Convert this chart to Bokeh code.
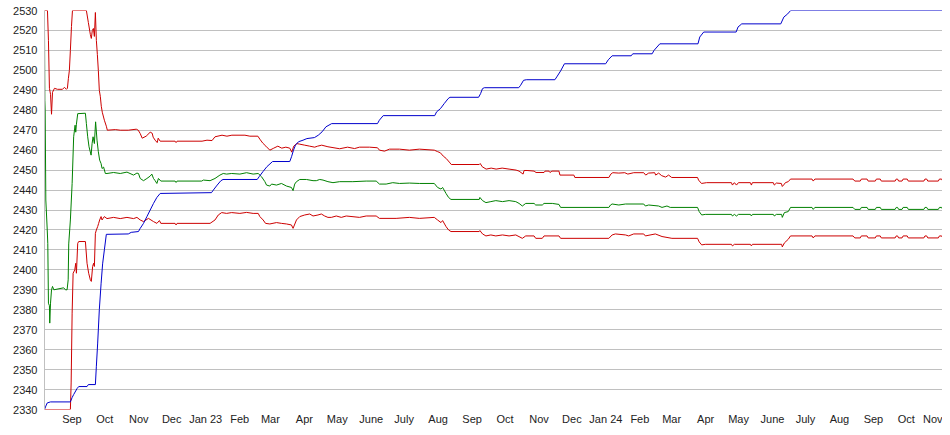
import pandas as pd
from bokeh.plotting import figure
from bokeh.models import Range1d, FixedTicker
from bokeh.embed import file_html
from bokeh.resources import INLINE

# Day 0 = 2022-08-21 (left edge of the visible window)
START = pd.Timestamp("2022-08-21")

tick_dates = ["2022-09-15", "2022-10-15", "2022-11-15", "2022-12-15", "2023-01-15",
              "2023-02-15", "2023-03-15", "2023-04-15", "2023-05-15", "2023-06-15",
              "2023-07-15", "2023-08-15", "2023-09-15", "2023-10-15", "2023-11-15",
              "2023-12-15", "2024-01-15", "2024-02-15", "2024-03-15", "2024-04-15",
              "2024-05-15", "2024-06-15", "2024-07-15", "2024-08-15", "2024-09-15",
              "2024-10-15", "2024-11-15"]
tick_labels = ["Sep", "Oct", "Nov", "Dec", "Jan 23", "Feb", "Mar", "Apr", "May", "June",
               "July", "Aug", "Sep", "Oct", "Nov", "Dec", "Jan 24", "Feb", "Mar", "Apr",
               "May", "June", "July", "Aug", "Sep", "Oct", "Nov"]
y_ticks = list(range(2330, 2540, 10))

# ---- Red (upper band) ----
upper_days = [0, 2.7, 3.6, 4.5, 5.5, 6.4, 7.3, 9.1, 11.8, 16.4, 18.2, 20.0, 20.9, 21.8, 22.7,
              23.6, 24.6, 25.5, 38.2, 40.0, 41.8, 42.7, 43.6, 44.6, 45.5, 46.4, 47.3, 48.2,
              49.1, 50.0, 50.9, 51.8, 52.7, 54.6, 56.4, 57.3, 64.6, 69.1, 76.4, 83.7, 85.5,
              87.3, 89.1, 92.7, 96.4, 98.2, 99.1, 100.9, 102.8, 103.7, 105.5, 119.1, 120.0,
              120.9, 143.7, 148.2, 152.8, 155.5, 161.9, 166.4, 170.9, 182.8, 187.3, 194.6,
              196.4, 199.1, 201.9, 205.5, 209.1, 212.8, 216.4, 220.1, 223.7, 225.5, 227.3,
              230.1, 232.8, 237.3, 241.9, 246.4, 249.1, 252.8, 258.5, 269.2, 276.4, 282.8,
              287.3, 296.4, 303.7, 305.5, 310.1, 314.6, 323.7, 332.8, 341.9, 355.5, 358.3,
              361.0, 363.7, 366.4, 369.2, 371.0, 396.5, 397.4, 399.2, 402.8, 407.4, 411.9,
              417.4, 423.7, 430.1, 432.8, 436.5, 437.4, 440.1, 446.5, 448.3, 455.6, 456.5,
              460.1, 461.0, 462.8, 469.2, 470.1, 482.8, 483.7, 514.7, 516.5, 518.3, 523.8,
              529.2, 532.0, 537.4, 546.5, 548.3, 551.0, 556.5, 557.4, 560.1, 562.9, 566.5,
              569.2, 572.0, 595.6, 596.5, 599.2, 603.8, 626.5, 627.4, 629.2, 631.1, 632.9,
              643.8, 644.7, 645.6, 664.7, 665.6, 667.5, 672.0, 672.9, 674.8, 675.7, 678.3,
              680.4, 700.0, 701.1, 702.6, 737.4, 739.0, 744.0, 745.0, 750.2, 751.2, 757.7,
              758.7, 762.2, 763.2, 775.8, 776.8, 778.0, 779.0, 782.1, 783.1, 786.8, 787.8,
              802.0, 803.0, 804.6, 805.6, 815.2, 816.2, 818.2, 819.2, 821.2, 822.2, 823.9]
upper_vals = [2530, 2530, 2515, 2491, 2488, 2478, 2489, 2491, 2490.5, 2490.5, 2491.5, 2490.5,
              2491, 2496, 2500, 2510, 2522, 2530, 2530, 2524, 2518, 2516, 2520, 2521, 2517,
              2529, 2515, 2508, 2500, 2490, 2487, 2482, 2479, 2475, 2472, 2470, 2470.3, 2470,
              2470, 2470.5, 2470, 2468.3, 2466, 2467, 2469, 2468.5, 2466.5, 2465, 2463.8, 2466,
              2464.5, 2464.5, 2463.8, 2464.5, 2464.5, 2465, 2464.8, 2466.7, 2467.5, 2467,
              2467.5, 2467.5, 2467, 2467, 2465.5, 2463.5, 2462, 2460, 2461, 2462, 2461,
              2461.5, 2461, 2459, 2462, 2463.3, 2463, 2462.5, 2462, 2461.5, 2462, 2462.5,
              2461.7, 2460.7, 2461.5, 2460.8, 2461.5, 2461.5, 2461.2, 2460, 2459.5, 2460.5,
              2460.5, 2460, 2460.5, 2460, 2459.3, 2458.7, 2457, 2455.8, 2454, 2452.8, 2452.8,
              2453.3, 2451.7, 2450.5, 2451, 2450.5, 2451, 2450.5, 2450, 2449.5, 2448, 2449.8,
              2449.8, 2449.5, 2448.8, 2448.8, 2449.5, 2449.5, 2448.8, 2449.5, 2449.5, 2447.5,
              2447.5, 2446.3, 2446.3, 2448, 2448.7, 2448.5, 2448.7, 2448, 2448.7, 2448.7,
              2447.5, 2448.5, 2448.7, 2447.5, 2448.5, 2447.2, 2446.5, 2447.5, 2446.3, 2446.3,
              2445, 2443.3, 2443.7, 2443.7, 2442.5, 2443.7, 2442.5, 2443.7, 2443.7, 2442.5,
              2443.7, 2443.7, 2442.5, 2443.5, 2443.3, 2441.8, 2443, 2443.7, 2444.2, 2445.5,
              2445.5, 2444.5, 2445.5, 2445.5, 2444.5, 2444.5, 2445.5, 2445.5, 2444.5, 2444.5,
              2445.5, 2445.5, 2444.5, 2444.5, 2445.5, 2445.5, 2444.5, 2444.5, 2445.5, 2445.5,
              2444.5, 2444.5, 2445.5, 2445.5, 2444.5, 2444.5, 2445.5, 2445.5, 2444.5, 2444.5,
              2445.5, 2445.5]

# ---- Green (middle) ----
mid_days = [0, 0.3, 0.6, 1.2, 2.5, 3.0, 3.6, 4.5, 4.8, 5.5, 6.4, 7.3, 8.5, 17.5, 19.1, 20.6,
            21.6, 22.1, 23.6, 25.2, 26.6, 27.9, 28.5, 29.1, 30.3, 37.3, 38.2, 39.4, 40.6,
            42.5, 43.4, 44.3, 45.5, 46.6, 47.9, 49.1, 50.3, 51.6, 52.5, 53.9, 55.5, 57.0,
            63.0, 69.1, 75.2, 81.2, 84.3, 85.7, 87.3, 90.3, 93.4, 96.4, 97.9, 99.4, 100.9,
            102.5, 103.9, 106.1, 119.1, 120.0, 120.9, 143.4, 144.9, 151.0, 155.5, 160.0,
            163.0, 166.1, 170.7, 178.2, 184.3, 190.3, 194.9, 197.9, 201.0, 202.5, 205.5,
            207.1, 211.6, 216.1, 220.7, 225.2, 226.7, 228.2, 229.8, 232.8, 238.9, 244.9,
            247.9, 251.0, 254.0, 258.5, 263.1, 269.2, 281.2, 293.4, 302.5, 305.5, 311.6,
            317.6, 323.7, 332.8, 341.9, 355.5, 358.5, 361.6, 363.1, 366.2, 368.5, 370.7,
            396.5, 397.1, 399.5, 402.6, 407.1, 411.6, 417.7, 423.7, 429.8, 432.8, 435.8,
            438.9, 446.5, 448.0, 454.0, 455.6, 463.1, 469.2, 470.7, 514.7, 516.2, 517.7,
            523.8, 529.9, 546.5, 548.0, 551.0, 560.1, 563.2, 567.7, 570.7, 595.6, 597.1,
            599.4, 602.6, 626.5, 627.4, 629.2, 631.1, 632.9, 643.8, 644.7, 645.6, 664.7,
            665.6, 667.5, 672.3, 672.9, 674.8, 678.3, 680.4, 700.0, 701.1, 702.6, 737.4,
            739.0, 744.0, 745.0, 750.2, 751.2, 757.7, 758.7, 762.2, 763.2, 775.8, 776.8,
            778.0, 779.0, 782.1, 783.1, 786.8, 787.8, 802.0, 803.0, 804.6, 805.6, 815.2,
            816.2, 818.2, 819.2, 821.2, 822.2, 823.9]
mid_vals = [2521.7, 2485, 2480, 2435, 2420, 2413.3, 2383.3, 2382, 2373.3, 2383.3, 2390,
            2391.7, 2390, 2391, 2390, 2390, 2395, 2413, 2425, 2443.3, 2466.7, 2472.5, 2469,
            2473, 2478.3, 2478.5, 2473.3, 2466.7, 2461.7, 2457.5, 2463.3, 2466.7, 2463.3,
            2474.2, 2465, 2459.2, 2455, 2453.3, 2450.8, 2451.5, 2448.3, 2448.3, 2448.8,
            2448.3, 2449, 2447.5, 2448.5, 2448.3, 2445.8, 2444.7, 2445.8, 2447, 2448, 2445.8,
            2444.7, 2443.3, 2445.8, 2444.5, 2444.5, 2443.8, 2444.5, 2444.5, 2445, 2444.7,
            2445.8, 2447.5, 2448.3, 2448, 2448.3, 2448, 2448.7, 2448, 2448.3, 2446.7, 2444.2,
            2442.5, 2442, 2443, 2442.5, 2443.3, 2442, 2441.3, 2439.7, 2443, 2444.2, 2445.3,
            2445.3, 2444.7, 2444.7, 2445.3, 2445, 2444.2, 2443.7, 2444.2, 2444.2, 2444.5,
            2444.5, 2443, 2443, 2443.7, 2443.3, 2443.5, 2443.3, 2443.3, 2441.3, 2440.5,
            2441.3, 2438.3, 2436.3, 2435.3, 2435.3, 2436.3, 2434.7, 2433.7, 2434.2, 2434.7,
            2434.2, 2434.7, 2434.2, 2433.3, 2432, 2433.3, 2433.3, 2432.5, 2432.5, 2433.3,
            2433.3, 2432.8, 2431.3, 2431.3, 2432.5, 2433, 2432.5, 2433, 2433, 2432, 2432.5,
            2432, 2431.3, 2432, 2431.3, 2431.3, 2429.2, 2427.5, 2427.8, 2427.8, 2427, 2427.8,
            2427, 2427.8, 2427.8, 2427, 2427.8, 2427.8, 2427, 2427.8, 2427.8, 2426.3, 2428.7,
            2429.2, 2431.3, 2431.3, 2430.3, 2431.3, 2431.3, 2430.3, 2430.3, 2431.3, 2431.3,
            2430.3, 2430.3, 2431.3, 2431.3, 2430.3, 2430.3, 2431.3, 2431.3, 2430.3, 2430.3,
            2431.3, 2431.3, 2430.3, 2430.3, 2431.3, 2431.3, 2430.3, 2430.3, 2431.3, 2431.3,
            2430.3, 2430.3, 2431.3, 2431.3]

# ---- Red (lower band) ----
lower_days = [0, 23.6, 24.3, 25.2, 26.1, 27.6, 28.5, 29.1, 30.3, 31.2, 37.3, 38.8, 40.3,
              41.8, 42.7, 43.9, 44.8, 45.5, 46.4, 47.3, 48.5, 49.4, 50.3, 51.6, 52.5, 53.4,
              54.6, 57.0, 63.0, 69.1, 75.2, 81.2, 84.3, 87.3, 90.3, 94.8, 99.4, 102.5, 104.8,
              106.1, 119.1, 120.0, 120.9, 151.0, 155.5, 158.5, 161.6, 166.1, 170.7, 178.2,
              184.3, 190.3, 194.9, 196.4, 199.4, 201.6, 205.5, 211.6, 216.1, 220.7, 225.2,
              226.7, 229.8, 232.8, 237.3, 241.9, 244.9, 249.4, 252.5, 255.5, 258.5, 261.6,
              266.1, 270.7, 275.2, 287.3, 293.4, 302.5, 305.5, 320.7, 332.8, 341.9, 355.5,
              358.5, 361.6, 363.1, 366.2, 368.5, 370.7, 396.5, 397.1, 399.5, 402.6, 407.1,
              411.6, 417.7, 423.7, 429.8, 435.8, 438.9, 446.5, 448.0, 454.0, 455.6, 469.2,
              470.7, 514.7, 517.7, 520.7, 529.9, 532.8, 537.4, 546.5, 548.0, 557.1, 563.2,
              572.2, 595.6, 597.1, 599.4, 602.6, 626.5, 627.4, 629.2, 643.8, 644.7, 645.6,
              672.3, 672.9, 674.8, 678.3, 680.4, 700.0, 701.1, 702.6, 737.4, 739.0, 744.0,
              745.0, 750.2, 751.2, 757.7, 758.7, 762.2, 763.2, 775.8, 776.8, 778.0, 779.0,
              782.1, 783.1, 786.8, 787.8, 802.0, 803.0, 804.6, 805.6, 815.2, 816.2, 818.2,
              819.2, 821.2, 822.2, 823.9]
lower_vals = [2330, 2330, 2343.3, 2378.3, 2398.3, 2400, 2403.3, 2398.3, 2413.3, 2414.2,
              2414.2, 2403.3, 2398.3, 2395, 2394.2, 2401.7, 2403.3, 2401.7, 2418.3, 2420,
              2421.7, 2423.3, 2425, 2426.7, 2425, 2425.8, 2426.7, 2425.7, 2426.3, 2425.7,
              2426.3, 2425.7, 2426.3, 2425, 2424.2, 2425.8, 2424.2, 2423.3, 2424.7, 2423.3,
              2423.3, 2422.5, 2423.3, 2423.3, 2425, 2427.5, 2428.7, 2428.3, 2428.7, 2428.3,
              2428.8, 2428.3, 2428.3, 2426.7, 2425, 2423.3, 2423, 2423.7, 2423.3, 2423,
              2422.5, 2420.8, 2425, 2426.7, 2427.5, 2428, 2427, 2427.5, 2428, 2427, 2426.3,
              2426.3, 2427, 2426.3, 2427, 2426.3, 2427, 2427, 2425.8, 2425.8, 2426.3, 2425.8,
              2426.3, 2425, 2423.7, 2424.7, 2421.7, 2420, 2419.2, 2419.2, 2419.7, 2418, 2417,
              2417.5, 2417, 2417.5, 2417, 2417.5, 2415.8, 2417, 2417, 2415.8, 2415.8, 2417,
              2417, 2415.8, 2415.8, 2417.5, 2418, 2417.5, 2417, 2418, 2418, 2417, 2418,
              2416.7, 2415.8, 2415.8, 2414, 2412.5, 2412.8, 2412.8, 2412, 2412.8, 2412.8,
              2412, 2412.8, 2412.8, 2411.5, 2413.5, 2415.3, 2417, 2417, 2416, 2417, 2417,
              2416, 2416, 2417, 2417, 2416, 2416, 2417, 2417, 2416, 2416, 2417, 2417, 2416,
              2416, 2417, 2417, 2416, 2416, 2417, 2417, 2416, 2416, 2417, 2417, 2416, 2416,
              2417, 2417]

# ---- Blue ----
blue_days = [0, 1.2, 2.5, 5.5, 23.6, 25.2, 26.6, 29.7, 31.2, 38.8, 40.0, 46.4, 47.3, 48.5,
             50.0, 51.6, 53.0, 54.6, 56.4, 76.4, 79.1, 85.7, 87.3, 90.3, 93.4, 96.4, 99.4,
             102.5, 105.5, 152.3, 154.0, 157.5, 160.9, 162.8, 194.0, 195.8, 199.2, 202.8,
             208.0, 223.7, 225.3, 227.1, 228.9, 231.6, 235.8, 239.3, 246.2, 249.7, 253.2,
             256.7, 261.9, 303.7, 305.4, 308.9, 355.9, 357.6, 361.1, 364.5, 368.1, 369.8,
             395.9, 397.7, 399.4, 401.1, 432.5, 434.2, 436.9, 439.4, 465.5, 467.2, 470.7,
             474.2, 511.8, 514.2, 517.7, 535.1, 536.5, 554.2, 555.9, 561.2, 596.0, 597.6,
             601.2, 630.8, 632.5, 635.9, 671.5, 674.3, 677.8, 680.5, 823.9]
blue_vals = [2330, 2331.7, 2333.3, 2333.8, 2333.8, 2336, 2337.5, 2340.5, 2341.5, 2341.5,
             2342.5, 2342.5, 2351.7, 2363.3, 2380, 2393, 2403, 2410, 2417.8, 2418, 2418.8,
             2419.2, 2420.8, 2423.3, 2426.7, 2430, 2433.3, 2436.3, 2438.3, 2438.7, 2440,
             2442.5, 2444.7, 2445.3, 2445.3, 2446.7, 2449.2, 2451.7, 2454.3, 2454.3, 2456.7,
             2460, 2462.5, 2464.2, 2465, 2465.8, 2466.3, 2467.5, 2469.2, 2471.7, 2473.3,
             2473.3, 2475, 2477.3, 2477.3, 2479.2, 2480.8, 2483.3, 2485.8, 2486.5, 2486.5,
             2488.3, 2490.8, 2491.3, 2491.3, 2492.5, 2495, 2495.3, 2495.3, 2496.7, 2499.7,
             2503.3, 2503.3, 2505.3, 2507.3, 2507.3, 2508.3, 2508.3, 2510, 2513.3, 2513.3,
             2516.7, 2519.2, 2519.2, 2521.7, 2523.3, 2523.3, 2526.7, 2528.3, 2530, 2530]

tick_pos = [float((pd.Timestamp(d) - START).days) for d in tick_dates]

p = figure(width=942, height=427, output_backend="svg", toolbar_location=None,
           x_range=Range1d(0, 819), y_range=Range1d(2330, 2530),
           min_border_left=44, min_border_right=0, min_border_top=10, min_border_bottom=17,
           background_fill_color="white", border_fill_color="white")
p.outline_line_color = None

p.xaxis.ticker = FixedTicker(ticks=tick_pos)
p.xaxis.major_label_overrides = {t: lab for t, lab in zip(tick_pos, tick_labels)}
p.yaxis.ticker = FixedTicker(ticks=y_ticks)

for ax in (p.xaxis[0], p.yaxis[0]):
    ax.major_tick_line_color = None
    ax.minor_tick_line_color = None
    ax.major_tick_out = 0
    ax.major_tick_in = 0
    ax.major_label_text_font = "Liberation Sans"
    ax.major_label_text_font_size = "11px"
    ax.major_label_text_color = "#222222"
p.xaxis.axis_line_color = None
p.yaxis.axis_line_color = "#c0c0c0"
p.xaxis.major_label_standoff = 3
p.yaxis.major_label_standoff = 7

p.xgrid.grid_line_color = None
p.ygrid.grid_line_color = "#c0c0c0"
p.ygrid.grid_line_width = 1

red = "#cc0000"
p.line(upper_days, upper_vals, line_color=red, line_width=1)
p.line(mid_days, mid_vals, line_color="#008000", line_width=1)
p.line(lower_days, lower_vals, line_color=red, line_width=1)
p.line(blue_days, blue_vals, line_color="#0000cc", line_width=1)

open("out.html", "w").write(file_html(p, INLINE))
